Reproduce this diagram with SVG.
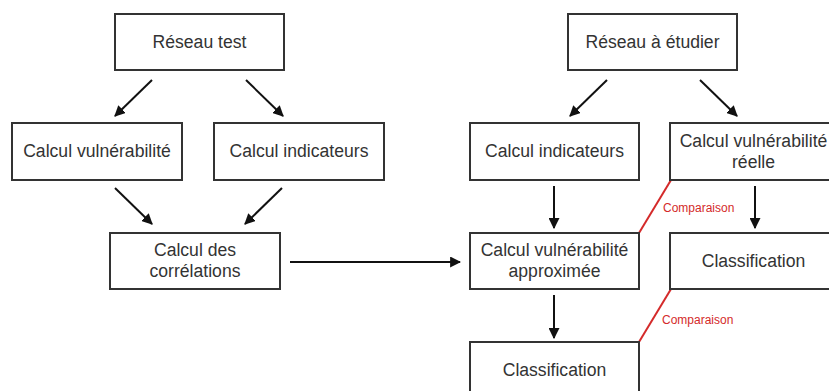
<svg xmlns="http://www.w3.org/2000/svg" width="829" height="391" viewBox="0 0 829 391">
<style>
.box rect{fill:#fff;stroke:#333;stroke-width:2}
.box text{font-family:"Liberation Sans",Arial,sans-serif;font-size:17.6px;fill:#333;text-anchor:middle}
.arr{stroke:#111;stroke-width:2;fill:none;marker-end:url(#ah)}
.cmp{stroke:#d42a2a;stroke-width:2;fill:none}
.cmpt{font-family:"Liberation Sans",Arial,sans-serif;font-size:12px;fill:#d42a2a}
</style>
<defs>
<marker id="ah" viewBox="0 0 10 10" refX="9" refY="5" markerWidth="5.5" markerHeight="5.5" orient="auto" markerUnits="strokeWidth">
<path d="M0,0 L10,5 L0,10 z" fill="#111"/>
</marker>
</defs>
<rect width="829" height="391" fill="#fff"/>
<g id="connectors">
<line class="arr" x1="152" y1="80" x2="115" y2="116"/>
<line class="arr" x1="246" y1="80" x2="283" y2="116"/>
<line class="arr" x1="115" y1="188" x2="152" y2="224"/>
<line class="arr" x1="282" y1="188" x2="245" y2="224"/>
<line class="arr" x1="290" y1="262" x2="460" y2="262"/>
<line class="arr" x1="607" y1="80" x2="570" y2="116"/>
<line class="arr" x1="700" y1="80" x2="737" y2="116"/>
<line class="arr" x1="554" y1="186" x2="554" y2="228"/>
<line class="arr" x1="755" y1="186" x2="755" y2="228"/>
<line class="arr" x1="554" y1="295" x2="554" y2="338"/>
<line class="cmp" x1="671" y1="180" x2="639" y2="233"/>
<line class="cmp" x1="671" y1="289" x2="639" y2="342"/>
<text class="cmpt" x="663" y="212">Comparaison</text>
<text class="cmpt" x="662" y="324">Comparaison</text>
</g>
<g id="reseau-test" class="box"><rect x="115" y="14" width="169" height="56"/><text x="199.5" y="48">Réseau test</text></g>
<g id="calcul-vuln" class="box"><rect x="12" y="123" width="170" height="57"/><text x="97" y="157">Calcul vulnérabilité</text></g>
<g id="calcul-ind-1" class="box"><rect x="214" y="123" width="170" height="57"/><text x="299" y="157">Calcul indicateurs</text></g>
<g id="correlations" class="box"><rect x="110" y="233" width="170" height="56"/><text x="195" y="256">Calcul des</text><text x="195" y="277">corrélations</text></g>
<g id="reseau-etudier" class="box"><rect x="568" y="14" width="169" height="56"/><text x="652.5" y="48">Réseau à étudier</text></g>
<g id="calcul-ind-2" class="box"><rect x="470" y="123" width="169" height="57"/><text x="554.5" y="157">Calcul indicateurs</text></g>
<g id="vuln-reelle" class="box"><rect x="670" y="123" width="169" height="57"/><text x="753.5" y="147">Calcul vulnérabilité</text><text x="753.5" y="168">réelle</text></g>
<g id="vuln-approx" class="box"><rect x="470" y="233" width="169" height="56"/><text x="554.5" y="256">Calcul vulnérabilité</text><text x="554.5" y="277">approximée</text></g>
<g id="classif-2" class="box"><rect x="670" y="233" width="169" height="56"/><text x="753.5" y="267">Classification</text></g>
<g id="classif-1" class="box"><rect x="470" y="342" width="169" height="57"/><text x="554.5" y="376">Classification</text></g>
</svg>
